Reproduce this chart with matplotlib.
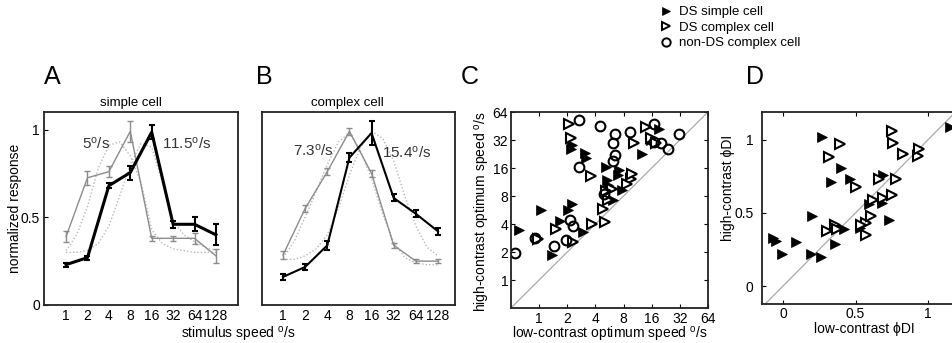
import matplotlib
matplotlib.use('Agg')
import matplotlib.pyplot as plt
from matplotlib.lines import Line2D

plt.rcParams['font.family'] = ['Liberation Sans', 'DejaVu Sans']
plt.rcParams['mathtext.fontset'] = 'custom'
plt.rcParams['mathtext.rm'] = 'Liberation Sans'
plt.rcParams['mathtext.it'] = 'Liberation Sans:italic'
plt.rcParams['axes.linewidth'] = 1.3
plt.rcParams['axes.edgecolor'] = '#222222'

# ---------------- data ----------------
speeds = [1, 2, 4, 8, 16, 32, 64, 128]
speed_labels = ['1', '2', '4', '8', '16', '32', '64', '128']

# Panel A (simple cell)
A_low = [0.39, 0.725, 0.76, 0.99, 0.38, 0.38, 0.38, 0.28]
A_low_err = [0.03, 0.04, 0.03, 0.06, 0.015, 0.015, 0.03, 0.04]
A_high = [0.23, 0.27, 0.68, 0.755, 0.985, 0.46, 0.46, 0.40]
A_high_err = [0.012, 0.012, 0.015, 0.04, 0.04, 0.02, 0.04, 0.06]

# Panel B (complex cell)
B_low = [0.285, 0.55, 0.76, 0.99, 0.75, 0.34, 0.25, 0.25]
B_low_err = [0.02, 0.02, 0.02, 0.02, 0.02, 0.015, 0.01, 0.01]
B_high = [0.16, 0.217, 0.34, 0.84, 0.98, 0.61, 0.52, 0.42]
B_high_err = [0.015, 0.015, 0.025, 0.025, 0.07, 0.02, 0.02, 0.02]

# fitted tuning curves (read at half-octave steps)
fit_speeds = [1, 1.41, 2, 2.83, 4, 5.66, 8, 11.3, 16, 22.6, 32, 45.3, 64, 90.5, 128]
A_fit_low = [0.31, 0.40, 0.56, 0.78, 0.91, 0.93, 0.85, 0.70, 0.43, 0.35, 0.32, 0.31, 0.30, 0.30, 0.30]
A_fit_high = [0.30, 0.30, 0.31, 0.35, 0.45, 0.62, 0.80, 0.92, 0.90, 0.70, 0.48, 0.40, 0.36, 0.33, 0.31]
B_fit_low = [0.27, 0.36, 0.50, 0.65, 0.80, 0.93, 0.98, 0.88, 0.72, 0.52, 0.36, 0.27, 0.24, 0.23, 0.23]
B_fit_high = [0.26, 0.26, 0.28, 0.32, 0.40, 0.55, 0.74, 0.90, 0.99, 0.95, 0.82, 0.62, 0.45, 0.33, 0.28]

A_opt_low, A_opt_high = '5', '11.5'
B_opt_low, B_opt_high = '7.3', '15.4'

# Panel C: optimum speeds (low contrast x, high contrast y)
C_simple_x = [0.61, 1.05, 1.37, 1.66, 2.04, 2.22, 2.26, 2.2, 3.1, 3.15, 2.97, 5.2, 5.3, 7.1, 7.7, 6.2, 12.7, 19.3, 15.7, 7.0, 5.4]
C_simple_y = [3.48, 5.6, 1.87, 4.35, 5.6, 6.5, 28, 25.5, 23, 20.3, 3.25, 16.2, 11.8, 15.1, 9.2, 7.2, 22.6, 41.7, 32, 13.5, 10.5]
C_complex_x = [0.97, 1.53, 2.28, 3.66, 5.1, 4.77, 2.08, 2.19, 3.6, 10.3, 13.8, 15.7, 9.5, 8.8, 6.0, 5.5, 9.9, 18, 5.2]
C_complex_y = [2.75, 3.54, 2.58, 4.0, 4.25, 5.8, 47, 33.4, 13.1, 29.5, 44.6, 33.4, 12.3, 10.9, 9.6, 7.2, 13.7, 30, 9.0]
C_nonds_x = [0.55, 0.91, 1.43, 1.96, 2.13, 2.3, 2.69, 2.66, 4.43, 6.5, 6.2, 6.4, 6.2, 5.0, 9.3, 17, 16.8, 20, 23.7, 31.7]
C_nonds_y = [1.97, 2.83, 2.33, 2.69, 4.4, 3.84, 52.7, 16.4, 45, 37, 30, 22, 19, 8.5, 39, 47.7, 30.7, 29.5, 25.6, 37]
C_ticks = [1, 2, 4, 8, 16, 32, 64]

# Panel D: direction index (low contrast x, high contrast y)
D_simple_x = [-0.07, -0.05, -0.01, 0.09, 0.20, 0.19, 0.26, 0.27, 0.40, 0.33, 0.46, 0.36, 0.42, 0.53, 0.59, 0.68, 0.69, 0.73, 1.15]
D_simple_y = [0.33, 0.31, 0.22, 0.30, 0.48, 0.22, 0.20, 1.02, 0.81, 0.71, 0.73, 0.29, 0.39, 0.40, 0.56, 0.57, 0.76, 0.45, 1.09]
D_complex_x = [0.32, 0.39, 0.50, 0.30, 0.36, 0.37, 0.57, 0.57, 0.61, 0.62, 0.69, 0.75, 0.66, 0.78, 0.75, 0.76, 0.83, 0.93, 0.94, 0.54]
D_complex_y = [0.88, 0.97, 0.68, 0.375, 0.42, 0.39, 0.35, 0.43, 0.48, 0.59, 0.60, 0.625, 0.73, 0.73, 1.06, 0.98, 0.90, 0.89, 0.94, 0.42]
D_ticks = [0, 0.5, 1]
D_ticklabels = ['0', '0.5', '1']

legend_labels = ['DS simple cell', 'DS complex cell', 'non-DS complex cell']

# ---------------- figure ----------------
W, H = 952, 343
fig = plt.figure(figsize=(W / 100, H / 100), dpi=100)

def box(l, r, t, b):
    return [l / W, 1 - b / H, (r - l) / W, (b - t) / H]

axA = fig.add_axes(box(44, 238, 112, 305))
axB = fig.add_axes(box(262, 455, 112, 305))
axC = fig.add_axes(box(511, 708, 112, 308))
axD = fig.add_axes(box(762, 957, 112, 304))

FS = 10
gray = '#8c8c8c'
fitc = '#b8b8b8'
txtc = '#333333'
deg = r'$^{\rm o}$'

def tuning(ax, low, low_err, high, high_err, fl, fh, lw_high, xlim):
    ax.plot(fit_speeds, fl, ls=(0, (1, 1.5)), color=fitc, lw=1.0)
    ax.plot(fit_speeds, fh, ls=(0, (1, 1.5)), color=fitc, lw=1.0)
    ax.errorbar(speeds, low, yerr=low_err, color=gray, lw=1.0, elinewidth=1.0,
                capsize=2, capthick=1.0)
    ax.errorbar(speeds, high, yerr=high_err, color='black', lw=lw_high,
                elinewidth=1.5, capsize=2, capthick=1.5)
    ax.set_xscale('log', base=2)
    ax.set_xlim(*xlim)
    ax.set_ylim(0, 1.1)
    ax.set_xticks(speeds)
    ax.set_xticklabels(speed_labels)
    ax.minorticks_off()
    ax.tick_params(axis='x', length=0, pad=3, labelsize=FS)
    ax.tick_params(axis='y', direction='in', length=3, pad=3, labelsize=FS)

tuning(axA, A_low, A_low_err, A_high, A_high_err, A_fit_low, A_fit_high, 2.2,
       (2 ** -1.03, 2 ** 8.03))
axA.set_yticks([0, 0.5, 1])
axA.set_yticklabels(['0', '0.5', '1'])
tuning(axB, B_low, B_low_err, B_high, B_high_err, B_fit_low, B_fit_high, 1.5,
       (2 ** -0.95, 2 ** 7.77))
axB.set_yticks([])

axA.text(2 ** 0.75, 0.92, A_opt_low + deg + '/s', color=txtc, fontsize=11, va='center')
axA.text(2 ** 4.5, 0.92, A_opt_high + deg + '/s', color=txtc, fontsize=11, va='center')
axB.text(2 ** 0.45, 0.88, B_opt_low + deg + '/s', color=txtc, fontsize=11, va='center')
axB.text(2 ** 4.45, 0.87, B_opt_high + deg + '/s', color=txtc, fontsize=11, va='center')

fig.text(131 / W, 1 - 106 / H, 'simple cell', fontsize=9.5, ha='center', va='baseline')
fig.text(347 / W, 1 - 106 / H, 'complex cell', fontsize=9.5, ha='center', va='baseline')

axA.set_ylabel('normalized response', fontsize=FS, ha='center', va='center')
axA.yaxis.set_label_coords((15 - 44) / 194, 0.5)
axA.set_xlabel('stimulus speed ' + deg + '/s', fontsize=FS, ha='center', va='center')
axA.xaxis.set_label_coords((238 - 44) / 194, -(335 - 305) / 193)

# Panel C
ms = 7
mew = 1.5
axC.axline((1, 1), (2, 2), color='#aaaaaa', lw=0.9, zorder=1)
axC.plot(C_simple_x, C_simple_y, ls='none', marker='>', ms=ms, color='black', mew=0.5)
axC.plot(C_complex_x, C_complex_y, ls='none', marker='>', ms=ms, mfc='white', mec='black', mew=mew)
axC.plot(C_nonds_x, C_nonds_y, ls='none', marker='o', ms=ms, mfc='none', mec='black', mew=mew)
axC.set_xscale('log', base=2)
axC.set_yscale('log', base=2)
axC.set_xlim(0.5, 64)
axC.set_ylim(0.5, 64)
axC.set_xticks(C_ticks)
axC.set_yticks(C_ticks)
axC.set_xticklabels([str(t) for t in C_ticks])
axC.set_yticklabels([str(t) for t in C_ticks])
axC.minorticks_off()
axC.tick_params(direction='in', length=3, top=True, right=True, labelsize=FS)
axC.tick_params(axis='x', pad=3)
axC.tick_params(axis='y', pad=2)
axC.set_ylabel('high-contrast optimum speed ' + deg + '/s', fontsize=FS, ha='center', va='center')
axC.yaxis.set_label_coords((483 - 511) / 197, 0.49)
axC.set_xlabel('low-contrast optimum speed ' + deg + '/s', fontsize=FS, ha='center', va='center')
axC.xaxis.set_label_coords((610 - 511) / 197, -(335 - 308) / 196)

# Panel D
axD.axline((0, 0), (1, 1), color='#aaaaaa', lw=0.9, zorder=1)
axD.plot(D_simple_x, D_simple_y, ls='none', marker='>', ms=ms, color='black', mew=0.5)
axD.plot(D_complex_x, D_complex_y, ls='none', marker='>', ms=ms, mfc='white', mec='black', mew=mew)
axD.set_xlim(-0.145, 1.2)
axD.set_ylim(-0.123, 1.19)
axD.set_xticks(D_ticks)
axD.set_yticks(D_ticks)
axD.set_xticklabels(D_ticklabels)
axD.set_yticklabels(D_ticklabels)
axD.tick_params(direction='in', length=3, top=True, right=True, labelsize=FS)
axD.tick_params(axis='x', pad=2)
axD.tick_params(axis='y', pad=6)
axD.set_ylabel('high-contrast ϕDI', fontsize=FS, ha='center', va='center')
axD.yaxis.set_label_coords((728 - 762) / 195, (304 - 188) / 192)
axD.set_xlabel('low-contrast ϕDI', fontsize=FS, ha='center', va='center')
axD.xaxis.set_label_coords((864 - 762) / 195, -(329 - 304) / 192)

# panel letters
for letter, x in zip('ABCD', [44, 256, 461, 746]):
    fig.text(x / W, 1 - 84 / H, letter, fontsize=18, ha='left', va='baseline')

# legend
handles = [
    Line2D([], [], ls='none', marker='>', ms=6, color='black', mew=0.5),
    Line2D([], [], ls='none', marker='>', ms=6, mfc='white', mec='black', mew=1.4),
    Line2D([], [], ls='none', marker='o', ms=6, mfc='none', mec='black', mew=1.4),
]
fig.legend(handles, legend_labels, loc='upper left', bbox_to_anchor=(659 / W, 1 - 6 / H),
           frameon=False, fontsize=9.5, handlelength=1.0, handletextpad=0.5,
           labelspacing=0.25, borderpad=0, borderaxespad=0)

fig.savefig('out.png', dpi=100)
